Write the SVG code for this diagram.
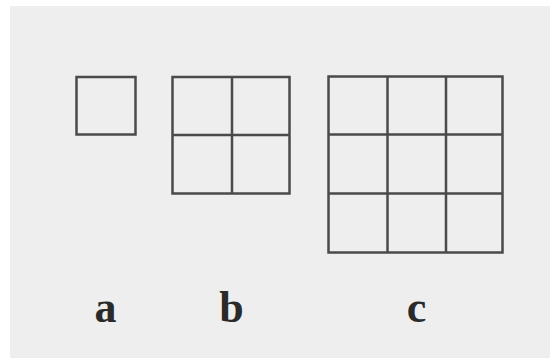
<svg xmlns="http://www.w3.org/2000/svg" width="550" height="358" viewBox="0 0 550 358">
<style>
.g{fill:none;stroke:#4a4a4a;stroke-width:2.5}
.lbl{font-family:"Liberation Serif","Times New Roman",serif;font-weight:bold;font-size:44px;fill:#2a2a2a;text-anchor:middle}
</style>
<rect x="0" y="0" width="550" height="358" fill="#ffffff"/>
<rect x="10" y="6" width="540" height="352" fill="#eeeeee"/>
<g id="grid-a">
<rect class="g" x="76.5" y="77" width="59" height="57.5"/>
</g>
<g id="grid-b">
<rect class="g" x="172.5" y="77" width="117" height="116.5"/>
<line class="g" x1="232" y1="77" x2="232" y2="193.5"/>
<line class="g" x1="172.5" y1="135" x2="289.5" y2="135"/>
</g>
<g id="grid-c">
<rect class="g" x="328.5" y="76.5" width="174" height="176"/>
<line class="g" x1="387.5" y1="76.5" x2="387.5" y2="252.5"/>
<line class="g" x1="446" y1="76.5" x2="446" y2="252.5"/>
<line class="g" x1="328.5" y1="134.5" x2="502.5" y2="134.5"/>
<line class="g" x1="328.5" y1="193.5" x2="502.5" y2="193.5"/>
</g>
<g id="labels">
<text class="lbl" x="105.5" y="322">a</text>
<text class="lbl" x="231.5" y="322">b</text>
<text class="lbl" x="416.5" y="322">c</text>
</g>
</svg>
